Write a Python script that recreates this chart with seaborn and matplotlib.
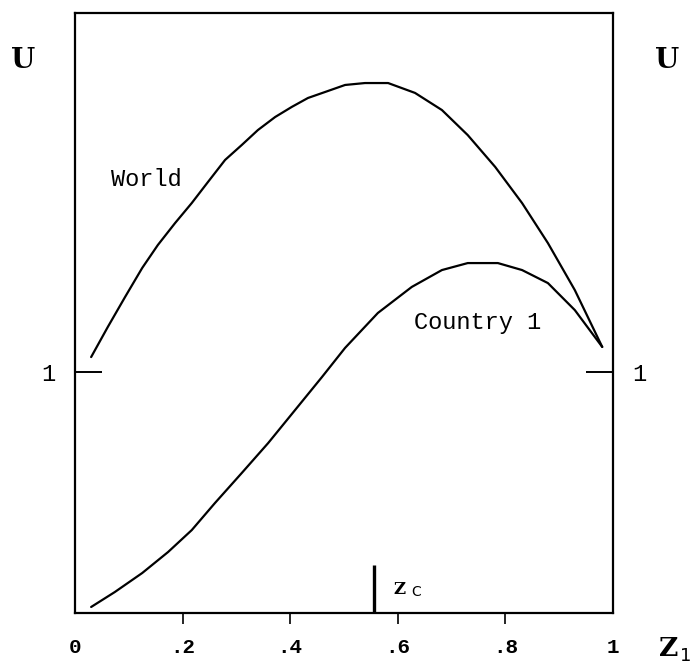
import matplotlib
matplotlib.use("Agg")
import matplotlib.pyplot as plt
import seaborn as sns
import pandas as pd

# Welfare U as a function of the share z1
world_z = [0.030, 0.061, 0.093, 0.125, 0.154, 0.186, 0.217, 0.247, 0.279, 0.310,
           0.340, 0.372, 0.403, 0.433, 0.465, 0.502, 0.539, 0.582, 0.632, 0.682,
           0.730, 0.781, 0.831, 0.879, 0.929, 0.980]
world_u = [1.062, 1.187, 1.311, 1.432, 1.527, 1.618, 1.701, 1.788, 1.880, 1.942,
           2.004, 2.058, 2.100, 2.137, 2.162, 2.191, 2.199, 2.199, 2.158, 2.087,
           1.983, 1.851, 1.701, 1.535, 1.340, 1.104]

country_z = [0.030, 0.074, 0.125, 0.173, 0.217, 0.260, 0.310, 0.359, 0.409, 0.459,
             0.502, 0.563, 0.626, 0.682, 0.730, 0.786, 0.831, 0.879, 0.929, 0.980]
country_u = [0.025, 0.087, 0.166, 0.253, 0.344, 0.456, 0.581, 0.705, 0.842, 0.979,
             1.100, 1.245, 1.353, 1.423, 1.452, 1.452, 1.423, 1.369, 1.257, 1.104]

z_c = 0.556
z_c_height = 0.20

x_ticks = [0, 0.2, 0.4, 0.6, 0.8, 1]
x_labels = ["0", ".2", ".4", ".6", ".8", "1"]
y_ticks = [1]
y_labels = ["1"]

sns.set_style("white")
plt.rcParams["font.family"] = ["Liberation Mono", "DejaVu Sans Mono"]
plt.rcParams["text.color"] = "black"
plt.rcParams["xtick.color"] = "black"
plt.rcParams["ytick.color"] = "black"

serif_bold = dict(family=["DejaVu Serif"], fontweight="bold")

fig = plt.figure(figsize=(6.94, 6.66), dpi=100)
ax = fig.add_axes([75 / 694, 53 / 666, 538 / 694, 600 / 666])

world = pd.DataFrame({"z": world_z, "u": world_u})
country = pd.DataFrame({"z": country_z, "u": country_u})
sns.lineplot(data=world, x="z", y="u", ax=ax, color="black", linewidth=1.6)
sns.lineplot(data=country, x="z", y="u", ax=ax, color="black", linewidth=1.6)

# critical share marker
ax.plot([z_c, z_c], [0, z_c_height], color="black", linewidth=2.4, solid_capstyle="butt")

ax.set_xlim(0, 1)
ax.set_ylim(0, 600 / 241)
ax.set_xlabel("")
ax.set_ylabel("")

for s in ax.spines.values():
    s.set_color("black")
    s.set_linewidth(1.6)
    s.set_visible(True)

ax.set_xticks(x_ticks)
ax.set_xticklabels(x_labels, fontsize=15, fontweight="bold")
ax.tick_params(axis="x", direction="out", length=8, width=1.2, pad=10,
               bottom=True, colors="black")
xt = ax.xaxis.get_major_ticks()
for t in (xt[0], xt[-1]):
    t.tick1line.set_visible(False)

ax.set_yticks(y_ticks)
ax.set_yticklabels(y_labels, fontsize=17)
ax.tick_params(axis="y", direction="in", length=19.5, width=1.4, pad=14,
               left=True, right=True, labelleft=True, labelright=True, colors="black")

# curve labels
ax.text((146 - 75) / 538, (613 - 180) / 241, "World", fontsize=17,
        ha="center", va="center")
ax.text((478 - 75) / 538, (613 - 323) / 241, "Country 1", fontsize=17,
        ha="center", va="center")

# z_c label
ax.text((393 - 75) / 538, (613 - 590) / 241, "Z", fontsize=12,
        ha="left", va="center", **serif_bold)
ax.text((411 - 75) / 538, (613 - 592) / 241, "C", fontsize=10,
        family=["DejaVu Sans"], ha="left", va="center")

# axis names
fig.text(23 / 694, 1 - 61 / 666, "U", fontsize=20, ha="center", va="center", **serif_bold)
fig.text(667 / 694, 1 - 61 / 666, "U", fontsize=20, ha="center", va="center", **serif_bold)
fig.text(669 / 694, 1 - 649 / 666, "Z", fontsize=19, ha="center", va="center", **serif_bold)
fig.text(686 / 694, 1 - 656 / 666, "1", fontsize=13, family=["DejaVu Sans"],
         ha="center", va="center")

fig.savefig("out.png", dpi=100, facecolor="white")
